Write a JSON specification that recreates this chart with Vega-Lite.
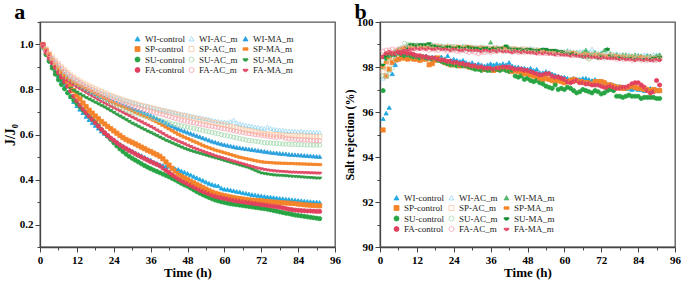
{
"$schema":"https://vega.github.io/schema/vega-lite/v6.json",
"padding":{"left":2,"right":1,"top":0,"bottom":2},
"spacing":0,
"config":{
 "font":"Liberation Serif",
 "view":{"stroke":"#555","strokeWidth":1.3},
 "axis":{"grid":false,"domainColor":"#444","domainWidth":1.3,"tickColor":"#444","tickWidth":1,"labelFont":"Liberation Serif","labelFontWeight":"bold","labelFontSize":11,"labelColor":"#000","titleFont":"Liberation Serif","titleFontWeight":"bold","titleFontSize":13,"titleColor":"#000","labelOverlap":false,"labelFlush":false},
 "legend":{"title":null,"orient":"none","columns":3,"gridAlign":"all","columnPadding":1,"rowPadding":0.5,"labelOffset":3,"symbolSize":25,"symbolStrokeWidth":0.8,"labelFontSize":9,"labelFont":"Liberation Serif","labelColor":"#222","padding":0},
 "title":{"font":"Liberation Serif","fontWeight":"bold","fontSize":22,"color":"#000","anchor":"start","frame":"bounds","offset":-8}
},
"hconcat":[
{
 "width":295,"height":225,
 "title":{"text":"a","dx":11},
 "data":{"values":[{
 "t":[1,2,3,4,5,6,7,8,9,10,11,12,13,14,15,16,17,18,19,20,21,22,23,24,25,26,27,28,29,30,31,32,33,34,35,36,37,38,39,40,41,42,43,44,45,46,47,48,49,50,51,52,53,54,55,56,57,58,59,60,61,62,63,64,65,66,67,68,69,70,71,72,73,74,75,76,77,78,79,80,81,82,83,84,85,86,87,88,89,90,91],
 "WI-control":[1.000,0.968,0.940,0.912,0.885,0.860,0.835,0.812,0.789,0.768,0.746,0.728,0.712,0.697,0.680,0.666,0.652,0.640,0.628,0.615,0.605,0.595,0.585,0.577,0.567,0.557,0.548,0.541,0.533,0.526,0.519,0.512,0.506,0.499,0.492,0.487,0.478,0.472,0.466,0.462,0.458,0.459,0.450,0.447,0.445,0.438,0.433,0.427,0.421,0.414,0.408,0.402,0.396,0.389,0.383,0.378,0.374,0.372,0.362,0.357,0.356,0.353,0.350,0.347,0.345,0.341,0.339,0.336,0.333,0.331,0.329,0.327,0.325,0.323,0.322,0.320,0.318,0.316,0.315,0.313,0.312,0.310,0.309,0.307,0.306,0.304,0.303,0.302,0.301,0.300,0.298],
 "WI-AC_m":[1.000,0.978,0.958,0.940,0.922,0.906,0.892,0.879,0.867,0.856,0.847,0.839,0.831,0.823,0.816,0.809,0.803,0.797,0.791,0.786,0.781,0.776,0.771,0.766,0.762,0.758,0.754,0.750,0.746,0.742,0.739,0.735,0.732,0.728,0.725,0.722,0.719,0.716,0.713,0.710,0.707,0.704,0.701,0.698,0.695,0.692,0.689,0.686,0.683,0.680,0.677,0.675,0.672,0.670,0.667,0.664,0.661,0.659,0.657,0.655,0.653,0.658,0.664,0.652,0.647,0.644,0.641,0.639,0.637,0.634,0.632,0.629,0.627,0.633,0.628,0.624,0.622,0.620,0.619,0.617,0.616,0.615,0.614,0.613,0.615,0.612,0.611,0.612,0.610,0.610,0.609],
 "WI-MA_m":[1.000,0.975,0.952,0.932,0.914,0.897,0.882,0.868,0.856,0.845,0.835,0.826,0.817,0.809,0.801,0.794,0.787,0.780,0.774,0.768,0.762,0.756,0.750,0.745,0.740,0.735,0.730,0.725,0.720,0.715,0.710,0.705,0.700,0.695,0.690,0.685,0.679,0.672,0.665,0.658,0.651,0.645,0.638,0.632,0.626,0.620,0.615,0.610,0.605,0.600,0.595,0.590,0.585,0.580,0.575,0.570,0.566,0.562,0.558,0.555,0.552,0.549,0.546,0.543,0.541,0.539,0.537,0.535,0.533,0.531,0.529,0.527,0.525,0.523,0.521,0.519,0.518,0.516,0.515,0.514,0.512,0.511,0.510,0.509,0.508,0.507,0.506,0.505,0.504,0.503,0.502],
 "SP-control":[1.000,0.975,0.955,0.930,0.912,0.895,0.878,0.858,0.838,0.816,0.795,0.775,0.758,0.740,0.724,0.708,0.695,0.682,0.670,0.658,0.647,0.636,0.626,0.616,0.606,0.596,0.586,0.578,0.571,0.565,0.558,0.551,0.544,0.537,0.530,0.524,0.517,0.510,0.503,0.492,0.478,0.464,0.450,0.438,0.426,0.416,0.408,0.401,0.392,0.385,0.378,0.371,0.364,0.357,0.350,0.344,0.339,0.335,0.331,0.328,0.325,0.322,0.319,0.317,0.315,0.313,0.311,0.309,0.308,0.307,0.306,0.305,0.304,0.303,0.302,0.300,0.299,0.298,0.297,0.296,0.295,0.294,0.293,0.291,0.290,0.288,0.287,0.286,0.285,0.284,0.283],
 "SP-AC_m":[1.000,0.980,0.962,0.945,0.929,0.914,0.900,0.887,0.875,0.864,0.854,0.845,0.837,0.829,0.822,0.815,0.809,0.803,0.797,0.791,0.785,0.779,0.773,0.768,0.763,0.758,0.753,0.749,0.745,0.741,0.737,0.733,0.729,0.726,0.722,0.719,0.715,0.712,0.708,0.705,0.702,0.699,0.696,0.692,0.689,0.686,0.683,0.680,0.677,0.673,0.670,0.667,0.664,0.661,0.658,0.654,0.651,0.648,0.645,0.642,0.639,0.636,0.633,0.630,0.627,0.624,0.621,0.618,0.615,0.612,0.609,0.606,0.604,0.602,0.601,0.600,0.599,0.598,0.597,0.596,0.596,0.595,0.595,0.594,0.594,0.593,0.592,0.592,0.591,0.590,0.590],
 "SP-MA_m":[1.000,0.975,0.952,0.930,0.910,0.892,0.876,0.862,0.850,0.840,0.832,0.825,0.818,0.811,0.804,0.797,0.790,0.783,0.776,0.769,0.762,0.755,0.748,0.741,0.735,0.729,0.723,0.717,0.711,0.705,0.699,0.693,0.687,0.681,0.675,0.669,0.663,0.656,0.649,0.641,0.633,0.625,0.617,0.609,0.601,0.594,0.588,0.582,0.576,0.570,0.564,0.558,0.552,0.546,0.541,0.536,0.531,0.527,0.523,0.519,0.515,0.511,0.507,0.503,0.499,0.496,0.493,0.490,0.487,0.484,0.481,0.479,0.477,0.476,0.475,0.474,0.473,0.473,0.472,0.472,0.471,0.471,0.470,0.470,0.469,0.469,0.468,0.468,0.467,0.467,0.466],
 "SU-control":[0.990,0.955,0.925,0.895,0.868,0.843,0.822,0.803,0.785,0.768,0.752,0.737,0.722,0.708,0.695,0.682,0.669,0.656,0.640,0.622,0.606,0.592,0.578,0.563,0.549,0.536,0.524,0.513,0.503,0.494,0.486,0.478,0.470,0.462,0.455,0.448,0.442,0.436,0.430,0.424,0.418,0.412,0.405,0.398,0.391,0.383,0.376,0.370,0.362,0.354,0.346,0.339,0.332,0.326,0.320,0.314,0.309,0.305,0.301,0.298,0.295,0.292,0.290,0.288,0.286,0.284,0.282,0.280,0.278,0.276,0.274,0.272,0.270,0.268,0.265,0.262,0.259,0.256,0.253,0.250,0.248,0.245,0.242,0.240,0.238,0.236,0.234,0.232,0.230,0.228,0.226],
 "SU-AC_m":[0.985,0.963,0.943,0.924,0.906,0.890,0.875,0.862,0.850,0.839,0.829,0.820,0.811,0.803,0.795,0.787,0.779,0.771,0.763,0.756,0.749,0.742,0.736,0.730,0.724,0.718,0.713,0.708,0.703,0.699,0.695,0.691,0.687,0.683,0.679,0.675,0.671,0.667,0.663,0.659,0.655,0.652,0.648,0.645,0.642,0.639,0.636,0.633,0.630,0.627,0.624,0.621,0.618,0.615,0.612,0.609,0.606,0.603,0.600,0.597,0.594,0.591,0.588,0.585,0.582,0.579,0.576,0.574,0.572,0.570,0.568,0.566,0.564,0.563,0.562,0.561,0.560,0.559,0.558,0.557,0.557,0.556,0.556,0.555,0.555,0.554,0.554,0.553,0.553,0.553,0.553],
 "SU-MA_m":[0.985,0.955,0.928,0.903,0.880,0.860,0.843,0.829,0.817,0.807,0.798,0.790,0.782,0.774,0.766,0.759,0.752,0.745,0.738,0.731,0.724,0.716,0.708,0.700,0.692,0.684,0.676,0.668,0.660,0.652,0.645,0.638,0.631,0.624,0.617,0.611,0.604,0.597,0.590,0.583,0.576,0.570,0.564,0.558,0.552,0.546,0.540,0.535,0.530,0.526,0.522,0.518,0.514,0.510,0.506,0.502,0.498,0.494,0.490,0.486,0.482,0.478,0.474,0.470,0.466,0.462,0.458,0.454,0.448,0.442,0.436,0.431,0.428,0.426,0.424,0.422,0.421,0.420,0.419,0.418,0.417,0.416,0.415,0.414,0.413,0.412,0.411,0.410,0.409,0.408,0.408],
 "FA-control":[1.000,0.970,0.945,0.920,0.897,0.875,0.855,0.835,0.815,0.793,0.770,0.750,0.731,0.713,0.697,0.682,0.667,0.652,0.637,0.622,0.608,0.596,0.584,0.574,0.563,0.553,0.545,0.537,0.529,0.522,0.514,0.507,0.500,0.493,0.486,0.479,0.473,0.467,0.460,0.451,0.441,0.431,0.421,0.412,0.403,0.395,0.388,0.381,0.374,0.367,0.360,0.353,0.347,0.342,0.336,0.330,0.326,0.322,0.319,0.316,0.313,0.310,0.307,0.305,0.303,0.301,0.299,0.297,0.295,0.293,0.291,0.289,0.287,0.285,0.283,0.281,0.279,0.277,0.274,0.271,0.268,0.266,0.264,0.263,0.262,0.261,0.260,0.260,0.259,0.258,0.258],
 "FA-AC_m":[0.990,0.972,0.955,0.938,0.922,0.908,0.894,0.881,0.869,0.858,0.848,0.839,0.830,0.822,0.814,0.806,0.799,0.792,0.785,0.778,0.772,0.766,0.760,0.754,0.749,0.744,0.739,0.734,0.730,0.726,0.722,0.718,0.714,0.711,0.707,0.704,0.700,0.696,0.692,0.688,0.684,0.680,0.676,0.672,0.668,0.664,0.661,0.658,0.655,0.652,0.649,0.646,0.643,0.641,0.638,0.636,0.633,0.631,0.628,0.626,0.623,0.620,0.617,0.614,0.611,0.609,0.606,0.604,0.602,0.600,0.598,0.597,0.595,0.593,0.591,0.589,0.587,0.590,0.588,0.583,0.581,0.580,0.579,0.578,0.577,0.576,0.575,0.574,0.573,0.572,0.572],
 "FA-MA_m":[0.990,0.962,0.937,0.915,0.895,0.878,0.864,0.852,0.841,0.831,0.822,0.813,0.805,0.797,0.789,0.781,0.773,0.765,0.757,0.749,0.742,0.735,0.728,0.721,0.714,0.707,0.700,0.693,0.686,0.679,0.672,0.665,0.658,0.651,0.644,0.637,0.630,0.622,0.614,0.606,0.598,0.591,0.584,0.578,0.572,0.566,0.560,0.554,0.548,0.542,0.537,0.532,0.527,0.522,0.517,0.512,0.507,0.503,0.499,0.495,0.491,0.487,0.483,0.479,0.475,0.471,0.467,0.463,0.459,0.455,0.452,0.449,0.446,0.444,0.442,0.440,0.439,0.438,0.437,0.436,0.435,0.434,0.434,0.433,0.433,0.432,0.432,0.431,0.431,0.430,0.430]
 }]},
 "transform":[
  {"flatten":["t","WI-control","WI-AC_m","WI-MA_m","SP-control","SP-AC_m","SP-MA_m","SU-control","SU-AC_m","SU-MA_m","FA-control","FA-AC_m","FA-MA_m"]},
  {"fold":["WI-control","WI-AC_m","WI-MA_m","SP-control","SP-AC_m","SP-MA_m","SU-control","SU-AC_m","SU-MA_m","FA-control","FA-AC_m","FA-MA_m"],"as":["series","v"]}
 ],
 "mark":{"type":"point","size":18,"strokeWidth":0.8,"opacity":1},
 "encoding":{
  "x":{"field":"t","type":"quantitative","scale":{"domain":[0,96],"nice":false,"zero":false},
   "axis":{"title":"Time (h)","values":[0,6,12,18,24,30,36,42,48,54,60,66,72,78,84,90,96],"labelExpr":"datum.value % 12 === 0 ? datum.label : ''","tickSize":{"condition":{"test":"datum.value % 12 === 0","value":5},"value":3},"labelPadding":2,"titlePadding":1}},
  "y":{"field":"v","type":"quantitative","scale":{"domain":[0.1,1.1],"nice":false,"zero":false},
   "axis":{"title":"J/J₀","titleFontSize":14,"format":".1f","values":[0.1,0.2,0.3,0.4,0.5,0.6,0.7,0.8,0.9,1.0,1.1],"labelExpr":"round(datum.value*10) % 2 === 0 ? datum.label : ''","tickSize":{"condition":{"test":"round(datum.value*10) % 2 === 0","value":5},"value":3},"labelPadding":2,"titlePadding":2}},
  "shape":{"field":"series","type":"nominal","scale":{"domain":["WI-control","SP-control","SU-control","FA-control","WI-AC_m","SP-AC_m","SU-AC_m","FA-AC_m","WI-MA_m","SP-MA_m","SU-MA_m","FA-MA_m"],"range":["triangle-up","square","circle","circle","triangle-up","square","circle","circle","triangle-up","M-1,-0.5H1V0.5H-1Z","M-1,-0.3A1,1,0,0,0,1,-0.3Z","M-1,-0.3A1,1,0,0,0,1,-0.3Z"]},
   "legend":{"legendX":93,"legendY":12}},
  "fill":{"field":"series","type":"nominal","scale":{"domain":["WI-control","SP-control","SU-control","FA-control","WI-AC_m","SP-AC_m","SU-AC_m","FA-AC_m","WI-MA_m","SP-MA_m","SU-MA_m","FA-MA_m"],"range":["#1fa8e2","#f5842a","#27a443","#e1405f","transparent","transparent","transparent","transparent","#2aa0dd","#f5862b","#2e9c44","#e04a66"]},
   "legend":{"legendX":93,"legendY":12}},
  "stroke":{"field":"series","type":"nominal","scale":{"domain":["WI-control","SP-control","SU-control","FA-control","WI-AC_m","SP-AC_m","SU-AC_m","FA-AC_m","WI-MA_m","SP-MA_m","SU-MA_m","FA-MA_m"],"range":["#1fa8e2","#f5842a","#27a443","#e1405f","#94d6f2","#f9c8a2","#a6d9ae","#f4a3ae","#2aa0dd","#f5862b","#2e9c44","#e04a66"]},
   "legend":{"legendX":93,"legendY":12}}
 }
},
{
 "width":295,"height":225,
 "title":{"text":"b","dx":11},
 "data":{"values":[{
 "t":[1,2,3,4,5,6,7,8,9,10,11,12,13,14,15,16,17,18,19,20,21,22,23,24,25,26,27,28,29,30,31,32,33,34,35,36,37,38,39,40,41,42,43,44,45,46,47,48,49,50,51,52,53,54,55,56,57,58,59,60,61,62,63,64,65,66,67,68,69,70,71,72,73,74,75,76,77,78,79,80,81,82,83,84,85,86,87,88,89,90,91],
 "WI-control":[95.70,95.95,96.20,97.70,98.10,98.35,98.50,98.50,98.55,98.50,98.45,98.50,98.45,98.40,98.50,98.40,98.45,98.35,98.40,98.45,98.35,98.50,98.30,98.35,98.30,98.25,98.30,98.20,98.15,98.20,98.10,98.15,98.10,98.05,98.10,98.15,98.10,98.15,98.10,98.15,98.10,98.20,98.05,98.00,98.00,97.95,97.95,97.90,97.95,97.85,97.90,97.75,97.75,97.80,97.75,97.70,97.65,97.60,97.55,97.55,97.50,97.45,97.50,97.45,97.45,97.50,97.50,97.45,97.40,97.45,97.35,97.35,97.30,97.25,97.25,97.20,97.15,97.15,97.10,97.10,97.05,97.00,97.05,97.00,97.00,96.95,97.00,97.05,96.95,97.00,96.95],
 "WI-AC_m":[97.50,97.60,97.85,98.20,98.50,98.70,98.85,98.90,98.95,98.95,99.00,98.95,99.00,99.00,98.95,98.95,99.00,98.95,98.90,98.95,98.95,98.90,98.95,98.95,98.90,98.90,98.95,98.90,98.90,98.85,98.90,98.85,98.90,98.90,98.85,98.85,98.90,98.90,98.85,98.85,98.85,98.80,98.85,98.85,98.80,98.85,98.80,98.80,98.85,98.80,98.80,98.75,98.80,98.75,98.75,98.70,98.75,98.70,98.70,98.70,98.75,98.70,98.65,98.65,98.70,98.70,98.75,98.65,98.80,98.65,98.60,98.65,98.65,98.60,98.60,98.55,98.60,98.55,98.55,98.50,98.55,98.50,98.50,98.55,98.50,98.55,98.55,98.50,98.55,98.55,98.55],
 "WI-MA_m":[98.00,98.30,98.45,98.60,98.70,98.80,98.85,98.90,98.95,98.95,98.95,99.00,98.95,98.95,99.00,98.95,98.95,98.90,98.95,98.95,98.90,98.95,98.90,98.90,98.90,98.85,98.90,98.90,98.85,98.90,98.85,98.85,98.90,98.85,98.85,99.10,98.85,98.85,98.80,98.85,98.80,98.85,98.80,98.80,98.80,98.80,98.75,98.80,98.75,98.75,98.75,98.75,98.70,98.75,98.70,98.70,98.70,98.70,98.65,98.65,98.70,98.65,98.65,98.65,98.60,98.65,98.75,98.60,98.60,98.65,98.60,98.60,98.75,98.80,98.60,98.55,98.55,98.50,98.55,98.55,98.50,98.50,98.55,98.50,98.50,98.45,98.50,98.50,98.45,98.50,98.55],
 "SP-control":[95.20,97.60,97.90,98.20,98.30,98.35,98.40,98.40,98.35,98.40,98.35,98.35,98.30,98.35,98.35,98.10,98.15,98.30,98.40,98.30,98.20,98.15,98.10,98.10,98.10,98.05,98.10,98.05,98.00,98.00,97.95,97.95,97.95,97.90,97.90,97.90,97.85,97.90,97.95,97.95,97.90,97.85,97.80,97.85,97.80,97.75,97.70,97.70,97.65,97.60,97.55,97.50,97.45,97.50,97.45,97.40,97.35,97.40,97.35,97.30,97.35,97.40,97.45,97.40,97.35,97.35,97.30,97.30,97.25,97.35,97.35,97.35,97.30,97.20,97.20,97.15,97.10,97.10,97.05,97.05,97.10,97.15,97.10,97.05,97.05,97.00,97.00,96.95,97.00,96.95,96.95],
 "SP-AC_m":[97.80,97.95,98.20,98.45,98.60,98.70,98.80,98.85,98.90,98.90,98.95,98.90,98.95,98.90,98.95,98.90,98.90,98.95,98.90,98.90,98.85,98.90,98.90,98.85,98.90,98.85,98.85,98.90,98.85,98.85,98.80,98.85,98.85,98.80,98.85,98.80,98.80,98.85,98.80,98.80,98.80,98.75,98.80,98.80,98.75,98.75,98.80,98.75,98.75,98.70,98.75,98.70,98.70,98.70,98.65,98.70,98.65,98.65,98.65,98.60,98.65,98.60,98.60,98.60,98.55,98.60,98.55,98.40,98.55,98.50,98.55,98.50,98.50,98.45,98.50,98.50,98.45,98.45,98.45,98.40,98.45,98.40,98.45,98.40,98.40,98.40,98.35,98.40,98.40,98.35,98.40],
 "SP-MA_m":[98.00,98.20,98.40,98.55,98.65,98.75,98.80,98.85,98.85,98.90,98.90,98.90,98.85,98.90,98.90,98.85,98.90,98.85,98.85,98.90,98.85,98.90,98.85,98.85,98.85,98.90,98.85,98.85,98.90,98.85,98.85,98.80,98.85,98.85,98.80,98.80,98.85,98.80,98.80,98.85,98.80,98.80,98.75,98.80,98.75,98.80,98.75,98.75,98.75,98.70,98.70,98.75,98.70,98.70,98.70,98.65,98.70,98.65,98.60,98.65,98.60,98.60,98.65,98.60,98.55,98.55,98.60,98.55,98.50,98.55,98.50,98.55,98.50,98.50,98.50,98.45,98.50,98.45,98.45,98.45,98.40,98.45,98.40,98.40,98.45,98.40,98.40,98.35,98.40,98.40,98.40],
 "SU-control":[96.95,98.40,98.50,98.55,98.55,98.60,98.55,98.50,98.55,98.50,98.45,98.45,98.40,98.45,98.40,98.40,98.35,98.40,98.30,98.25,98.20,98.15,98.10,98.10,98.05,98.10,98.05,98.05,98.00,97.95,97.90,97.90,97.85,97.90,97.85,97.85,97.90,97.90,97.85,97.90,97.85,97.80,97.85,97.60,97.55,97.60,97.45,97.50,97.40,97.35,97.40,97.30,97.25,97.15,97.10,97.05,97.20,97.00,97.05,97.00,97.10,97.05,96.95,96.85,96.90,97.00,96.95,96.90,96.85,96.95,96.90,96.80,96.85,96.95,97.00,96.95,96.70,96.70,96.65,96.70,96.75,96.70,96.70,96.70,96.60,96.65,96.65,96.65,96.65,96.60,96.60],
 "SU-AC_m":[97.60,97.60,97.70,97.95,98.30,98.60,98.85,99.05,99.00,99.00,98.95,98.95,98.90,98.95,98.90,98.90,98.85,98.90,98.85,98.85,98.85,98.80,98.85,98.80,98.80,98.80,98.85,98.80,98.80,98.75,98.80,98.75,98.80,98.75,98.75,98.80,98.75,98.70,98.75,98.75,98.70,98.75,98.75,98.70,98.70,98.75,98.70,98.70,98.70,98.65,98.70,98.70,98.65,98.70,98.65,98.65,98.60,98.65,98.65,98.60,98.60,98.60,98.55,98.60,98.55,98.60,98.55,98.35,98.50,98.55,98.50,98.50,98.45,98.50,98.45,98.45,98.45,98.40,98.40,98.45,98.40,98.40,98.35,98.40,98.35,98.35,98.40,98.35,98.35,98.35,98.35],
 "SU-MA_m":[98.10,98.50,98.60,98.60,98.60,98.65,98.70,98.75,98.85,99.00,99.00,98.95,99.00,99.00,99.00,99.05,98.95,98.95,98.90,98.90,98.85,98.90,98.90,98.85,98.85,98.90,98.85,98.85,98.90,98.85,98.85,98.85,98.80,98.85,98.85,98.80,98.85,98.80,98.85,98.85,98.95,98.85,98.80,98.80,98.80,98.80,98.75,98.80,98.80,98.75,98.75,98.75,98.80,98.80,98.75,98.75,98.75,98.70,98.70,98.65,98.60,98.60,98.60,98.55,98.50,98.45,98.50,98.45,98.50,98.45,98.40,98.50,98.45,98.80,98.50,98.45,98.40,98.45,98.40,98.40,98.40,98.40,98.35,98.40,98.35,98.35,98.35,98.35,98.40,98.40,98.45],
 "FA-control":[98.45,98.60,98.65,98.60,98.60,98.65,98.60,98.65,98.60,98.60,98.55,98.50,98.50,98.45,98.45,98.40,98.40,98.40,98.35,98.30,98.30,98.25,98.25,98.20,98.20,98.15,98.15,98.10,98.10,98.05,98.05,98.00,98.00,97.95,97.95,97.95,97.90,97.95,97.95,98.00,98.00,98.00,97.95,97.90,97.90,97.90,97.85,97.85,97.80,97.75,97.70,97.65,97.65,97.70,97.70,97.60,97.55,97.55,97.50,97.45,97.35,97.30,97.35,97.40,97.30,97.30,97.25,97.25,97.20,97.20,97.20,97.15,97.10,97.10,97.15,97.10,97.05,97.05,97.10,97.10,97.15,97.25,97.30,97.30,97.20,97.10,96.95,96.85,96.90,97.40,97.20],
 "FA-AC_m":[98.70,98.75,98.75,98.80,98.75,98.80,98.80,98.85,98.80,98.85,98.80,98.80,98.85,98.80,98.80,98.75,98.80,98.75,98.75,98.80,98.75,98.70,98.75,98.75,98.70,98.70,98.75,98.70,98.65,98.70,98.65,98.60,98.65,98.65,98.70,98.65,98.70,98.70,98.75,98.70,98.75,98.70,98.70,98.70,98.65,98.70,98.65,98.70,98.65,98.65,98.65,98.60,98.65,98.60,98.60,98.60,98.60,98.55,98.60,98.55,98.55,98.55,98.50,98.55,98.50,98.50,98.45,98.50,98.45,98.45,98.40,98.45,98.40,98.45,98.40,98.40,98.35,98.40,98.35,98.35,98.35,98.30,98.35,98.35,98.30,98.35,98.30,98.35,98.30,98.30,98.35],
 "FA-MA_m":[98.45,98.60,98.60,98.65,98.65,98.70,98.70,98.75,98.75,98.80,98.80,98.85,98.80,98.85,98.80,98.85,98.80,98.80,98.85,98.80,98.80,98.80,98.75,98.80,98.80,98.75,98.75,98.80,98.75,98.75,98.75,98.75,98.70,98.75,98.75,98.70,98.75,98.70,98.75,98.70,98.70,98.70,98.65,98.70,98.70,98.65,98.70,98.65,98.65,98.65,98.60,98.65,98.60,98.65,98.60,98.60,98.55,98.60,98.55,98.55,98.55,98.50,98.55,98.50,98.50,98.50,98.45,98.50,98.45,98.45,98.45,98.40,98.45,98.40,98.40,98.40,98.40,98.35,98.40,98.35,98.35,98.35,98.30,98.35,98.35,98.30,98.35,98.30,98.30,98.35,98.30]
 }]},
 "transform":[
  {"flatten":["t","WI-control","WI-AC_m","WI-MA_m","SP-control","SP-AC_m","SP-MA_m","SU-control","SU-AC_m","SU-MA_m","FA-control","FA-AC_m","FA-MA_m"]},
  {"fold":["WI-control","WI-AC_m","WI-MA_m","SP-control","SP-AC_m","SP-MA_m","SU-control","SU-AC_m","SU-MA_m","FA-control","FA-AC_m","FA-MA_m"],"as":["series","v"]}
 ],
 "mark":{"type":"point","size":18,"strokeWidth":0.8,"opacity":1},
 "encoding":{
  "x":{"field":"t","type":"quantitative","scale":{"domain":[0,96],"nice":false,"zero":false},
   "axis":{"title":"Time (h)","values":[0,6,12,18,24,30,36,42,48,54,60,66,72,78,84,90,96],"labelExpr":"datum.value % 12 === 0 ? datum.label : ''","tickSize":{"condition":{"test":"datum.value % 12 === 0","value":5},"value":3},"labelPadding":2,"titlePadding":1}},
  "y":{"field":"v","type":"quantitative","scale":{"domain":[90,100],"nice":false,"zero":false},
   "axis":{"title":"Salt rejection (%)","titleFontSize":12,"values":[90,91,92,93,94,95,96,97,98,99,100],"labelExpr":"datum.value % 2 === 0 ? datum.label : ''","tickSize":{"condition":{"test":"datum.value % 2 === 0","value":5},"value":3},"labelPadding":2,"titlePadding":0}},
  "shape":{"field":"series","type":"nominal","scale":{"domain":["WI-control","SP-control","SU-control","FA-control","WI-AC_m","SP-AC_m","SU-AC_m","FA-AC_m","WI-MA_m","SP-MA_m","SU-MA_m","FA-MA_m"],"range":["triangle-up","square","circle","circle","triangle-up","square","circle","circle","triangle-up","M-1,-0.5H1V0.5H-1Z","M-1,-0.3A1,1,0,0,0,1,-0.3Z","M-1,-0.3A1,1,0,0,0,1,-0.3Z"]},
   "legend":{"legendX":12,"legendY":171,"columnPadding":2}},
  "fill":{"field":"series","type":"nominal","scale":{"domain":["WI-control","SP-control","SU-control","FA-control","WI-AC_m","SP-AC_m","SU-AC_m","FA-AC_m","WI-MA_m","SP-MA_m","SU-MA_m","FA-MA_m"],"range":["#1fa8e2","#f5842a","#27a443","#e1405f","transparent","transparent","transparent","transparent","#56b870","#f5862b","#128c2c","#e04a66"]},
   "legend":{"legendX":12,"legendY":171,"columnPadding":2}},
  "stroke":{"field":"series","type":"nominal","scale":{"domain":["WI-control","SP-control","SU-control","FA-control","WI-AC_m","SP-AC_m","SU-AC_m","FA-AC_m","WI-MA_m","SP-MA_m","SU-MA_m","FA-MA_m"],"range":["#1fa8e2","#f5842a","#27a443","#e1405f","#94d6f2","#f9c8a2","#a6d9ae","#f4a3ae","#56b870","#f5862b","#128c2c","#e04a66"]},
   "legend":{"legendX":12,"legendY":171,"columnPadding":2}}
 }
}
],
"resolve":{"scale":{"shape":"independent","fill":"independent","stroke":"independent"},"legend":{"shape":"independent","fill":"independent","stroke":"independent"}}
}
